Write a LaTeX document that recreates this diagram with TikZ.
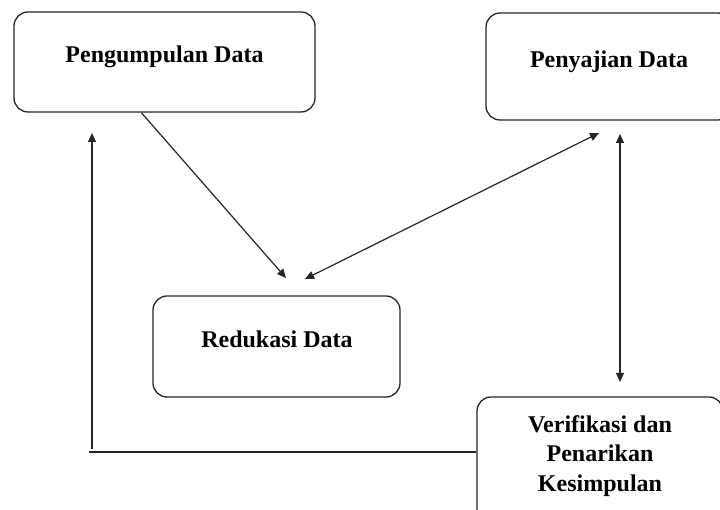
\documentclass[tikz,border=0pt]{standalone}
\usepackage{fontspec}
\setmainfont{Liberation Serif}
\usetikzlibrary{arrows.meta,calc}
\tikzset{
  box/.style={draw=black!85, line width=1.3pt, rounded corners=14pt, inner sep=0pt},
  lbl/.style={font=\fontsize{24}{30}\selectfont\bfseries, anchor=base, inner sep=0pt},
  conn/.style={draw=black!85, line width=1.2pt},
  arr/.style={conn, -{Triangle[length=9pt,width=8pt]}},
  darr/.style={conn, {Triangle[length=9pt,width=8pt]}-{Triangle[length=9pt,width=8pt]}}
}
\begin{document}
\begin{tikzpicture}[x=1pt,y=-1pt]
\useasboundingbox (0,0) rectangle (720,510);
\clip (0,0) rectangle (720,510);
\fill[white] (0,0) rectangle (720,510);
% boxes
\node[box, minimum width=301pt, minimum height=100pt] (pd) at (164.5,62) {};
\node[box, minimum width=246pt, minimum height=107pt] (sd) at (609,66.5) {};
\node[box, minimum width=247pt, minimum height=101pt] (rd) at (276.5,346.5) {};
\node[box, minimum width=246pt, minimum height=133pt] (vk) at (600,463.5) {};
% labels
\node[lbl] (tpd) at (164.5,63) {Pengumpulan Data};
\node[lbl] (tsd) at (609,68) {Penyajian Data};
\node[lbl] (trd) at (277,348) {Redukasi Data};
\node[lbl] (tvk1) at (600,432) {Verifikasi dan};
\node[lbl] (tvk2) at (600,461.5) {Penarikan};
\node[lbl] (tvk3) at (600,491) {Kesimpulan};
% connector end points
\coordinate (a1) at ($(pd.south west)+(128,0)$);
\coordinate (a2) at (286,278);
\coordinate (b1) at (305,279);
\coordinate (b2) at (599,133);
\coordinate (c1) at (620,134);
\coordinate (c2) at (620,382);
\coordinate (d1) at (vk.west |- 0,452);
\coordinate (d2) at (89,452);
\coordinate (e1) at (92,449);
\coordinate (e2) at (92,133);
% connectors
\draw[arr] (a1) -- (a2);
\draw[darr] (b1) -- (b2);
\draw[darr] (c1) -- (c2);
\draw[conn] (d1) -- (d2);
\draw[arr] (e1) -- (e2);
\end{tikzpicture}
\end{document}
